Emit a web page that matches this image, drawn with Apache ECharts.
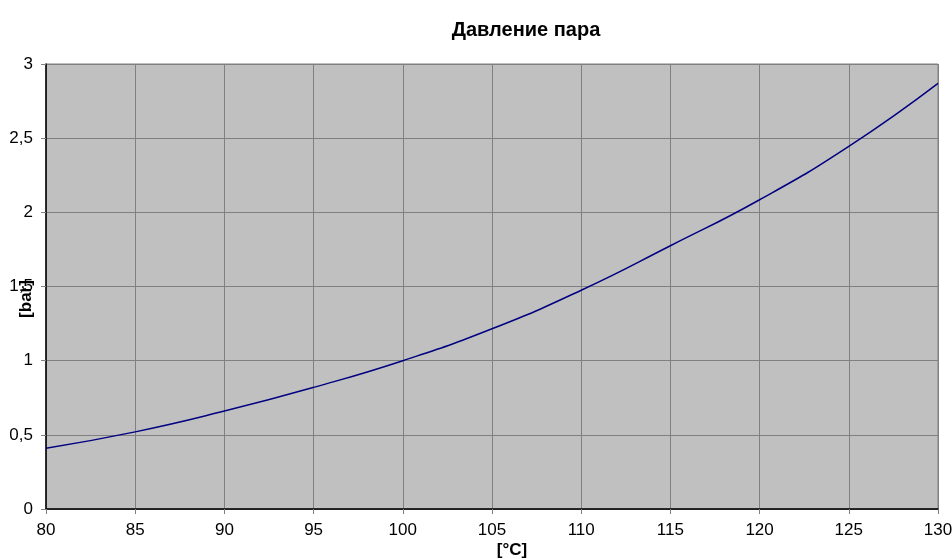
<!DOCTYPE html>
<html>
<head>
<meta charset="utf-8">
<script src="https://cdn.jsdelivr.net/npm/echarts@6/dist/echarts.min.js"></script>
<style>html,body{margin:0;padding:0;background:#fff}#c{width:952px;height:559px}</style>
</head>
<body>
<div id="c"></div>
<script>
const temps = [80, 85, 90, 95, 100, 105, 110, 115, 120, 125, 130];
const pressure = [0.41, 0.52, 0.66, 0.82, 1.0, 1.215, 1.475, 1.775, 2.085, 2.445, 2.87];
const titleText = 'Давление пара';
const xName = '[°C]';
const yName = '[bar]';

const chart = echarts.init(document.getElementById('c'));
const fmt = v => String(v).replace('.', ',');
const FF = 'Liberation Sans, Arial';
chart.setOption({
  animation: false,
  title: {
    text: titleText, left: 521, top: 15, textAlign: 'center',
    textStyle: {fontFamily: FF, fontSize: 20, fontWeight: 'bold', color: '#000'}
  },
  graphic: [
    {type: 'text', x: 512, y: 550, style: {text: xName, fontFamily: FF, fontSize: 17, fontWeight: 'bold', fill: '#000', align: 'center', verticalAlign: 'middle'}},
    {type: 'text', x: 26, y: 299, rotation: Math.PI / 2, style: {text: yName, fontFamily: FF, fontSize: 17, fontWeight: 'bold', fill: '#000', align: 'center', verticalAlign: 'middle'}}
  ],
  grid: {left: 46, right: 14, top: 64, bottom: 50, containLabel: false, outerBoundsMode: 'none',
    show: true, backgroundColor: '#C0C0C0', borderColor: '#808080', borderWidth: 1},
  xAxis: {
    type: 'value', min: 80, max: 130, interval: 5,
    axisLine: {lineStyle: {color: '#000', width: 1.5}},
    axisTick: {show: true, length: 5, lineStyle: {color: '#808080'}},
    axisLabel: {fontFamily: FF, fontSize: 17, color: '#000', margin: 13},
    splitLine: {show: true, lineStyle: {color: '#808080', width: 1}}
  },
  yAxis: {
    type: 'value', min: 0, max: 3, interval: 0.5,
    axisLine: {show: true, lineStyle: {color: '#000', width: 1.5}},
    axisTick: {show: true, length: 5, lineStyle: {color: '#808080'}},
    axisLabel: {fontFamily: FF, fontSize: 17, color: '#000', margin: 13, formatter: fmt},
    splitLine: {show: true, lineStyle: {color: '#808080', width: 1}}
  },
  series: [{
    type: 'line', smooth: true, showSymbol: false,
    data: temps.map((t, i) => [t, pressure[i]]),
    lineStyle: {color: '#000080', width: 1.5}
  }]
});
</script>
</body>
</html>
